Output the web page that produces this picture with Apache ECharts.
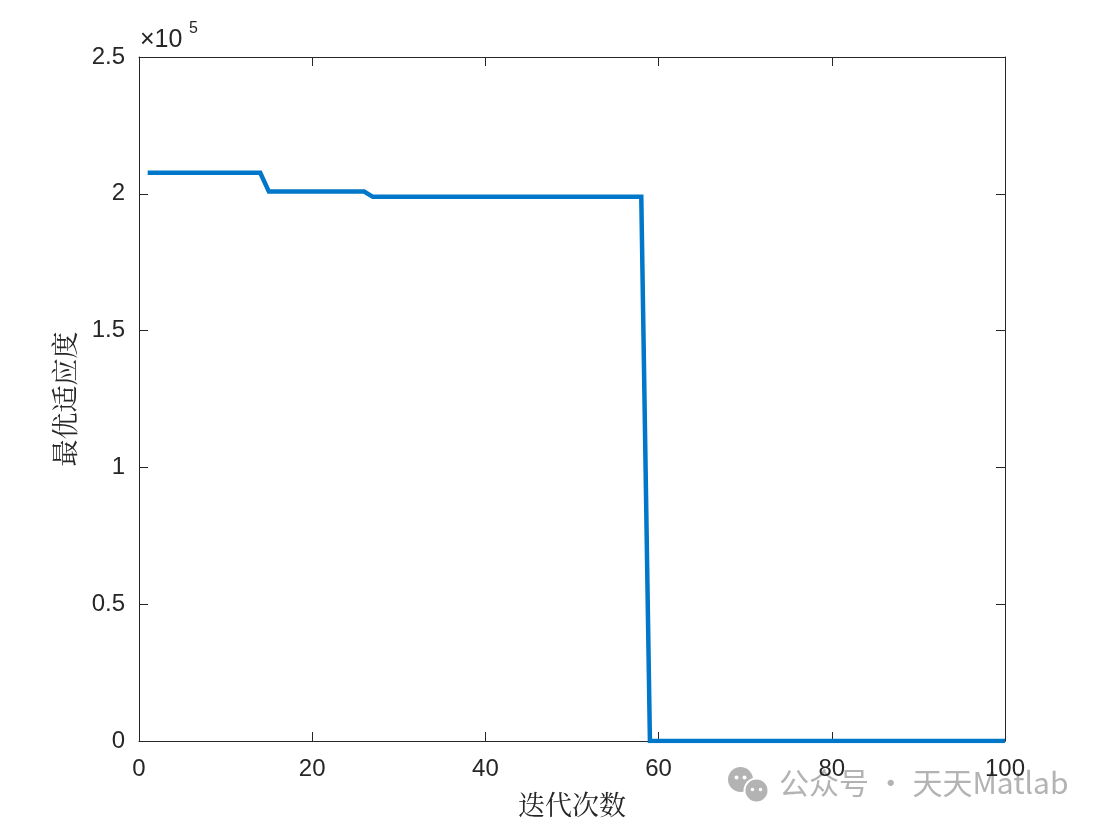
<!DOCTYPE html>
<html>
<head>
<meta charset="utf-8">
<script src="https://cdn.jsdelivr.net/npm/echarts@6/dist/echarts.min.js"></script>
<style>html,body{margin:0;padding:0;background:#fff;}#c{width:1103px;height:829px;}</style>
</head>
<body>
<div id="c"></div>
<script>
const iterations = [1,2,3,4,5,6,7,8,9,10,11,12,13,14,15,16,17,18,19,20,21,22,23,24,25,26,27,28,29,30,31,32,33,34,35,36,37,38,39,40,41,42,43,44,45,46,47,48,49,50,51,52,53,54,55,56,57,58,59,60,61,62,63,64,65,66,67,68,69,70,71,72,73,74,75,76,77,78,79,80,81,82,83,84,85,86,87,88,89,90,91,92,93,94,95,96,97,98,99,100];
const fitness = [
207700,207700,207700,207700,207700,207700,207700,207700,207700,207700,
207700,207700,207700,207700,200800,200800,200800,200800,200800,200800,
200800,200800,200800,200800,200800,200800,198900,198900,198900,198900,
198900,198900,198900,198900,198900,198900,198900,198900,198900,198900,
198900,198900,198900,198900,198900,198900,198900,198900,198900,198900,
198900,198900,198900,198900,198900,198900,198900,198900,0,0,
0,0,0,0,0,0,0,0,0,0,
0,0,0,0,0,0,0,0,0,0,
0,0,0,0,0,0,0,0,0,0,
0,0,0,0,0,0,0,0,0,0];
const xTicks = [0,20,40,60,80,100];
const yTickLabels = ['0','0.5','1','1.5','2','2.5'];
const xName = '迭代次数';
const yName = '最优适应度';
const exponentBase = '×10';
const exponentPower = '5';
const watermark = '公众号 · 天天Matlab';

const chart = echarts.init(document.getElementById('c'));
const axisCol = '#262626';
const tickFont = {fontFamily:'Liberation Sans, Arial, sans-serif', fontSize:24, color:axisCol};
const G = {left:139, right:98, top:57, bottom:88};
const commonLine = {show:true, onZero:false, lineStyle:{color:axisCol, width:1}};
const tick = {show:true, inside:true, length:9, lineStyle:{color:axisCol}};
const cjk = 'Noto Serif CJK SC, Noto Sans CJK SC, serif';
function yLab(v){ const i = Math.round(v/50000); return yTickLabels[i] ?? ''; }
chart.setOption({
  animation:false,
  grid:G,
  xAxis:[
    {type:'value', min:0, max:100, interval:20, position:'bottom',
     axisLine:commonLine, axisTick:tick, splitLine:{show:false},
     axisLabel:Object.assign({margin:16, formatter:v=>xTicks.includes(v)?String(v):''}, tickFont),
     name:xName, nameLocation:'middle', nameGap:50,
     nameTextStyle:{fontFamily:cjk, fontSize:27, color:axisCol}},
    {type:'value', min:0, max:100, interval:20, position:'top',
     axisLine:commonLine, axisTick:tick, axisLabel:{show:false}, splitLine:{show:false}}
  ],
  yAxis:[
    {type:'value', min:0, max:250000, interval:50000, position:'left',
     axisLine:commonLine, axisTick:tick, splitLine:{show:false},
     axisLabel:Object.assign({margin:14, formatter:yLab}, tickFont),
     name:yName, nameLocation:'middle', nameGap:61, nameRotate:90,
     nameTextStyle:{fontFamily:cjk, fontSize:27, color:axisCol}},
    {type:'value', min:0, max:250000, interval:50000, position:'right',
     axisLine:commonLine, axisTick:tick, axisLabel:{show:false}, splitLine:{show:false}}
  ],
  series:[{
    type:'line', xAxisIndex:0, yAxisIndex:0,
    data:iterations.map((x,i)=>[x,fitness[i]]),
    showSymbol:false, symbol:'none',
    lineStyle:{color:'#0077C8', width:4.5, join:'miter'}
  }],
  graphic:[
    {type:'text', left:140, top:28, style:{text:exponentBase, fill:axisCol,
      fontFamily:'Liberation Sans, Arial, sans-serif', fontSize:25}},
    {type:'text', left:189, top:21, style:{text:exponentPower, fill:axisCol,
      fontFamily:'Liberation Sans, Arial, sans-serif', fontSize:16}},
    {type:'group', left:728, top:767, children:[
      {type:'circle', shape:{cx:13, cy:12, r:12.5}, style:{fill:'#b3b3b3'}},
      {type:'circle', shape:{cx:29, cy:23, r:12}, style:{fill:'#b3b3b3', stroke:'#fff', lineWidth:2}},
      {type:'circle', shape:{cx:9, cy:10, r:2}, style:{fill:'#fff'}},
      {type:'circle', shape:{cx:17, cy:10, r:2}, style:{fill:'#fff'}},
      {type:'circle', shape:{cx:25, cy:22, r:1.8}, style:{fill:'#fff'}},
      {type:'circle', shape:{cx:33, cy:22, r:1.8}, style:{fill:'#fff'}}
    ]},
    {type:'text', left:779, top:768, style:{text:watermark, fill:'#b3b3b3',
      fontFamily:'Noto Sans CJK SC, sans-serif', fontSize:30}}
  ]
});
</script>
</body>
</html>
